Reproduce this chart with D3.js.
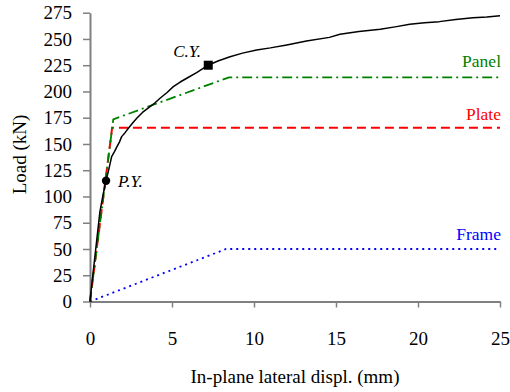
<!DOCTYPE html>
<html>
<head>
<meta charset="utf-8">
<script src="https://cdn.jsdelivr.net/npm/d3@7"></script>
<style>
  html, body { margin: 0; padding: 0; background: #fff; }
  svg { display: block; }
  svg text { font-family: "Liberation Serif", Tinos, "Times New Roman", Times, serif !important; }
</style>
</head>
<body>
<svg id="chart" width="510" height="392"></svg>
<script>
// Measured load–displacement response (mm, kN)
const testDispl = [0, 0.1, 0.35, 0.6, 0.8, 0.98, 1.15, 1.32, 1.5, 1.63, 1.8, 1.93, 2.15, 2.34, 2.6, 2.85, 3.2, 3.66, 3.95, 4.27, 4.7, 5.08, 5.5, 5.9, 6.5, 7.21, 7.8, 8.54, 9.3, 10.16, 11.0, 12.0, 13.2, 14.6, 15.24, 16.4, 17.7, 18.6, 19.5, 20.4, 21.3, 22.3, 23.35, 24.2, 25];
const testLoad  = [0, 15, 50, 85, 102, 115, 126, 138, 143, 147, 152, 157, 161, 165, 170, 174.5, 180, 185.5, 189, 193.5, 199, 204.6, 209, 212.6, 218, 225, 229, 233, 236.5, 239.5, 241.5, 244.3, 248, 251.5, 254.5, 257, 259.3, 261.5, 264, 265.5, 266.5, 268.5, 270.3, 271, 272.2];

// Idealised component models
const panelDispl = [0, 1.42, 8.48, 25];
const panelLoad  = [0, 173.5, 213.5, 213.5];
const plateDispl = [0, 1.35, 25];
const plateLoad  = [0, 165.5, 165.5];
const frameDispl = [0, 8.3, 25];
const frameLoad  = [0, 50, 50];

// Yield points
const pyPoint = [0.98, 115];
const cyPoint = [7.21, 225];

const xTicks = [0, 5, 10, 15, 20, 25];
const yTicks = [0, 25, 50, 75, 100, 125, 150, 175, 200, 225, 250, 275];

const serif = "'Liberation Serif', Tinos, 'Times New Roman', Times, serif";

const svg = d3.select("#chart").attr("font-family", serif);
const x = d3.scaleLinear().domain([0, 25]).range([90, 500]);
const y = d3.scaleLinear().domain([0, 275]).range([301.5, 12.7]);

const axisColor = "#808080";

// Axes
const xAxis = svg.append("g")
  .attr("transform", `translate(0,${y(0)})`)
  .call(d3.axisBottom(x).tickValues(xTicks).tickSize(6).tickSizeOuter(0).tickPadding(24));
const yAxis = svg.append("g")
  .attr("transform", `translate(${x(0)},0)`)
  .call(d3.axisLeft(y).tickValues(yTicks).tickSize(7).tickSizeOuter(0).tickPadding(11));

[xAxis, yAxis].forEach(g => {
  g.attr("font-family", serif).attr("font-size", 19);
  g.selectAll("path.domain").attr("stroke", axisColor).attr("stroke-width", 2);
  g.selectAll(".tick line").attr("stroke", axisColor).attr("stroke-width", 1.5);
  g.selectAll(".tick text").attr("fill", "#000");
});

const line = d3.line().x(d => x(d[0])).y(d => y(d[1]));
const zipPts = (a, b) => a.map((v, i) => [v, b[i]]);

// Frame model (dotted blue)
svg.append("path")
  .datum(zipPts(frameDispl, frameLoad))
  .attr("d", line).attr("fill", "none")
  .attr("stroke", "#0000ff").attr("stroke-width", 1.8)
  .attr("stroke-dasharray", "2,4");

// Plate model (dashed red)
svg.append("path")
  .datum(zipPts(plateDispl, plateLoad))
  .attr("d", line).attr("fill", "none")
  .attr("stroke", "#ff0000").attr("stroke-width", 2)
  .attr("stroke-dasharray", "9,5");

// Panel model (dash-dot green)
svg.append("path")
  .datum(zipPts(panelDispl, panelLoad))
  .attr("d", line).attr("fill", "none")
  .attr("stroke", "#008000").attr("stroke-width", 1.8)
  .attr("stroke-dasharray", "10,4,2,4");

// Test curve
svg.append("path")
  .datum(zipPts(testDispl, testLoad))
  .attr("d", line).attr("fill", "none")
  .attr("stroke", "#000").attr("stroke-width", 1.5)
  .attr("stroke-linejoin", "round");

// Yield markers
svg.append("circle")
  .attr("cx", x(pyPoint[0])).attr("cy", y(pyPoint[1])).attr("r", 4.2).attr("fill", "#000");
svg.append("rect")
  .attr("x", x(cyPoint[0]) - 4.5).attr("y", y(cyPoint[1]) - 4.5)
  .attr("width", 9).attr("height", 9).attr("fill", "#000");

// Annotations
svg.append("text").attr("x", x(pyPoint[0]) + 12).attr("y", y(pyPoint[1]) + 6)
  .attr("font-style", "italic").attr("font-size", 17).text("P.Y.");
svg.append("text").attr("x", x(cyPoint[0]) - 35).attr("y", y(cyPoint[1]) - 8)
  .attr("font-style", "italic").attr("font-size", 17).text("C.Y.");

const seriesLabels = [
  { text: "Panel", color: "#008000", load: panelLoad[3], dy: -10 },
  { text: "Plate", color: "#ff0000", load: plateLoad[2], dy: -8 },
  { text: "Frame", color: "#0000ff", load: frameLoad[2], dy: -9 }
];
svg.selectAll("text.series").data(seriesLabels).join("text")
  .attr("class", "series")
  .attr("x", 501).attr("y", d => y(d.load) + d.dy)
  .attr("text-anchor", "end").attr("font-size", 17.5)
  .attr("fill", d => d.color).text(d => d.text);

// Axis titles
svg.append("text").attr("x", (x(0) + x(25)) / 2).attr("y", 383)
  .attr("text-anchor", "middle").attr("font-size", 19)
  .text("In-plane lateral displ. (mm)");
svg.append("text")
  .attr("transform", `translate(26,${y(140)}) rotate(-90)`)
  .attr("text-anchor", "middle").attr("font-size", 19)
  .text("Load (kN)");
</script>
</body>
</html>
